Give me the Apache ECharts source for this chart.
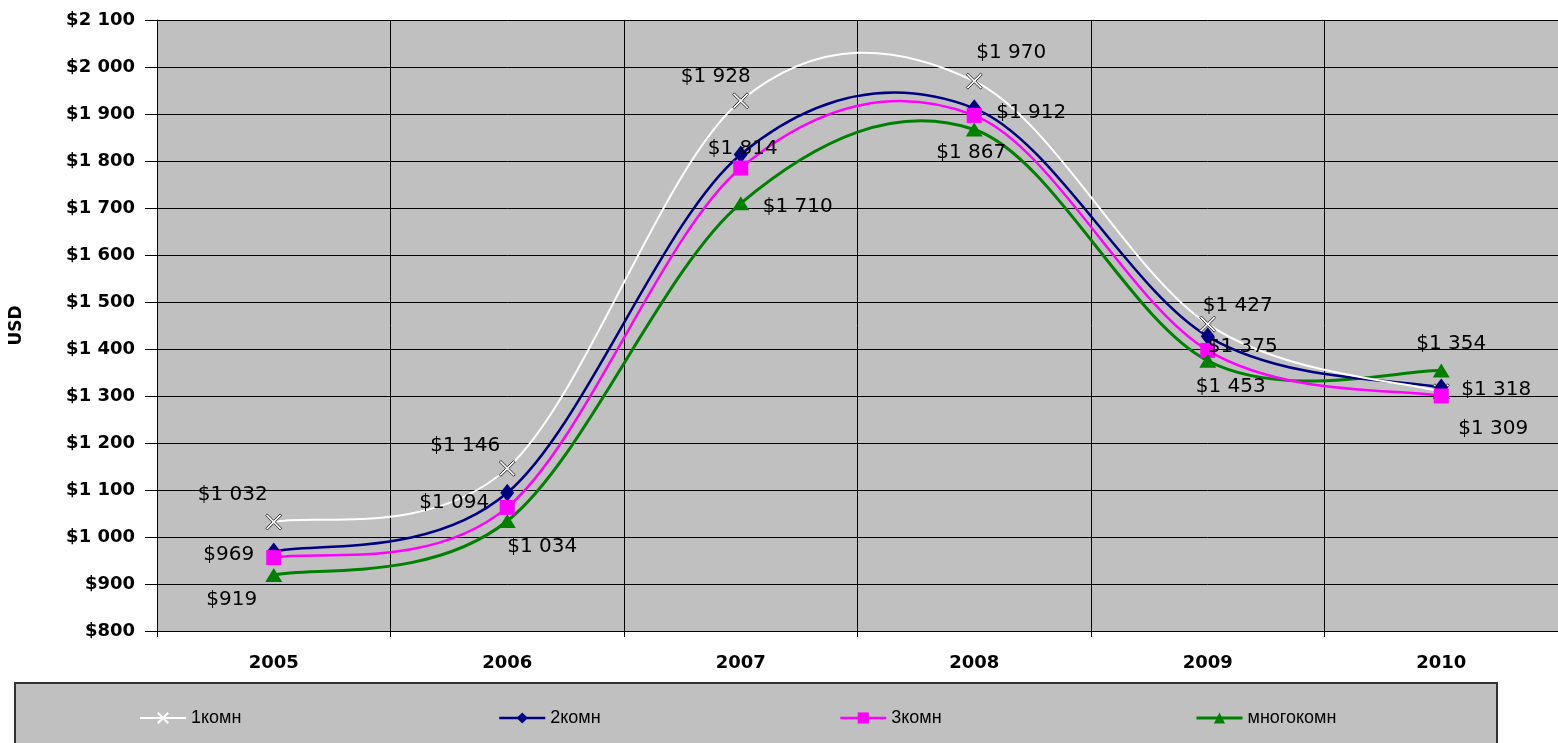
<!DOCTYPE html>
<html>
<head>
<meta charset="utf-8">
<script src="https://cdn.jsdelivr.net/npm/echarts@6/dist/echarts.min.js"></script>
<style>
html,body{margin:0;padding:0;background:#fff;}
#chart{width:1558px;height:743px;}
</style>
</head>
<body>
<div id="chart"></div>
<script>
// ---- data ----
const years = ['2005', '2006', '2007', '2008', '2009', '2010'];
const seriesNames = ['1комн', '2комн', '3комн', 'многокомн'];
const room1 = [1032, 1146, 1928, 1970, 1453, 1309];
const room2 = [969, 1094, 1814, 1912, 1427, 1318];
const room3 = [956, 1063, 1785, 1897, 1397, 1300];
const roomMulti = [919, 1034, 1710, 1867, 1375, 1354];
const yTicks = { min: 800, max: 2100, interval: 100 };

// ---- style ----
const colors = ['#ffffff', '#000080', '#ff00ff', '#008000'];
const widths = [2, 2.5, 2.5, 3];
const off1 = [[-41, -27], [-42, -23], [-25, -24], [37, -28], [23, 63], [52, 37]];
const off2 = [[-45, 3], [-53, 10], [2, -6], [57, 4], [30, -31], [55, 2]];
const offM = [[-42, 25], [35, 26], [57, 3], [-3, 23], [35, -14], [10, -27]];

function money(v) {
  const s = String(Math.round(v));
  return '$' + s.replace(/\B(?=(\d{3})+(?!\d))/g, ' ');
}

function withLabels(values, offs) {
  return values.map((v, i) => ({
    value: v,
    label: offs ? { show: true, offset: offs[i] } : { show: false }
  }));
}

const labelBase = {
  show: true,
  position: 'inside',
  align: 'center',
  verticalAlign: 'middle',
  color: '#000',
  fontFamily: 'DejaVu Sans',
  fontSize: 20,
  formatter: p => money(p.value)
};

// Excel-like smoothed curve (Catmull-Rom -> Bezier) through the points placed by the axes
function curveSeries(values, color, width, z) {
  return {
    type: 'custom',
    coordinateSystem: 'cartesian2d',
    silent: true,
    z: z,
    data: [[0, values[0]]],
    renderItem: function (params, api) {
      const p = values.map((v, i) => api.coord([i, v]));
      let d = 'M' + p[0][0] + ',' + p[0][1];
      for (let i = 0; i < p.length - 1; i++) {
        const p0 = p[Math.max(i - 1, 0)];
        const p1 = p[i];
        const p2 = p[i + 1];
        const p3 = p[Math.min(i + 2, p.length - 1)];
        const c1x = p1[0] + (p2[0] - p0[0]) / 6;
        const c1y = p1[1] + (p2[1] - p0[1]) / 6;
        const c2x = p2[0] - (p3[0] - p1[0]) / 6;
        const c2y = p2[1] - (p3[1] - p1[1]) / 6;
        d += ' C' + c1x + ',' + c1y + ' ' + c2x + ',' + c2y + ' ' + p2[0] + ',' + p2[1];
      }
      return {
        type: 'path',
        shape: { pathData: d },
        style: { fill: 'none', stroke: color, lineWidth: width, lineJoin: 'round' }
      };
    }
  };
}

const xSymbol = 'path://M0,1 L1,0 L5,4 L9,0 L10,1 L6,5 L10,9 L9,10 L5,6 L1,10 L0,9 L4,5 Z';

const chart = echarts.init(document.getElementById('chart'));
const legendCommon = {
  top: 704,
  itemWidth: 46,
  itemHeight: 14,
  itemGap: 0,
  textStyle: { fontFamily: 'Liberation Sans', fontSize: 18, color: '#000' }
};
function legendItem(i) {
  const item = { name: seriesNames[i], lineStyle: { color: colors[i], width: widths[i], opacity: 1 } };
  if (i === 0) item.itemStyle = { color: '#ffffff', borderColor: '#ffffff', borderWidth: 1 };
  return [item];
}
chart.setOption({
  animation: false,
  backgroundColor: '#fff',
  graphic: [{
    type: 'rect',
    z: -1,
    shape: { x: 15, y: 683, width: 1482, height: 70 },
    style: { fill: '#c0c0c0', stroke: '#333', lineWidth: 2 }
  }],
  legend: [
    Object.assign({}, legendCommon, { left: 134, data: legendItem(0) }),
    Object.assign({}, legendCommon, { left: 493, data: legendItem(1) }),
    Object.assign({}, legendCommon, { left: 834, data: legendItem(2) }),
    Object.assign({}, legendCommon, { left: 1190, data: legendItem(3) })
  ],
  grid: {
    left: 153, right: 0, top: 20, bottom: 112,
    show: true, backgroundColor: '#c0c0c0', borderWidth: 0
  },
  xAxis: {
    type: 'category',
    data: years,
    boundaryGap: true,
    axisLine: { lineStyle: { color: '#000', width: 1 } },
    axisTick: { show: true, length: 6, lineStyle: { color: '#000' } },
    axisLabel: {
      margin: 23,
      color: '#000',
      fontFamily: 'DejaVu Sans',
      fontWeight: 'bold',
      fontSize: 18
    },
    splitLine: { show: true, lineStyle: { color: '#000', width: 1 } }
  },
  yAxis: {
    type: 'value',
    min: yTicks.min,
    max: yTicks.max,
    interval: yTicks.interval,
    name: 'USD',
    nameLocation: 'middle',
    nameGap: 132,
    nameRotate: 90,
    nameTextStyle: { fontFamily: 'DejaVu Sans', fontWeight: 'bold', fontSize: 17, color: '#000' },
    axisLine: { show: true, lineStyle: { color: '#000', width: 1 } },
    axisTick: { show: true, length: 12, lineStyle: { color: '#000' } },
    axisLabel: {
      margin: 22,
      color: '#000',
      fontFamily: 'DejaVu Sans',
      fontWeight: 'bold',
      fontSize: 18,
      formatter: v => money(v)
    },
    splitLine: { show: true, lineStyle: { color: '#000', width: 1 } }
  },
  series: [
    {
      name: seriesNames[0], type: 'line',
      data: withLabels(room1, off1),
      symbol: xSymbol, symbolSize: 16,
      itemStyle: { color: '#ffffff', borderColor: '#333', borderWidth: 1 },
      lineStyle: { color: colors[0], width: widths[0], opacity: 0 },
      label: labelBase, z: 10
    },
    {
      name: seriesNames[1], type: 'line',
      data: withLabels(room2, off2),
      symbol: 'diamond', symbolSize: [14, 18],
      itemStyle: { color: colors[1] },
      lineStyle: { color: colors[1], width: widths[1], opacity: 0 },
      label: labelBase, z: 10
    },
    {
      name: seriesNames[2], type: 'line',
      data: withLabels(room3, null),
      symbol: 'rect', symbolSize: 15,
      itemStyle: { color: colors[2] },
      lineStyle: { color: colors[2], width: widths[2], opacity: 0 },
      label: { show: false }, z: 10
    },
    {
      name: seriesNames[3], type: 'line',
      data: withLabels(roomMulti, offM),
      symbol: 'triangle', symbolSize: [17, 14],
      itemStyle: { color: colors[3] },
      lineStyle: { color: colors[3], width: widths[3], opacity: 0 },
      label: labelBase, z: 10
    },
    curveSeries(roomMulti, colors[3], widths[3], 2),
    curveSeries(room3, colors[2], widths[2], 3),
    curveSeries(room2, colors[1], widths[1], 4),
    curveSeries(room1, colors[0], widths[0], 5)
  ]
});
</script>
</body>
</html>
